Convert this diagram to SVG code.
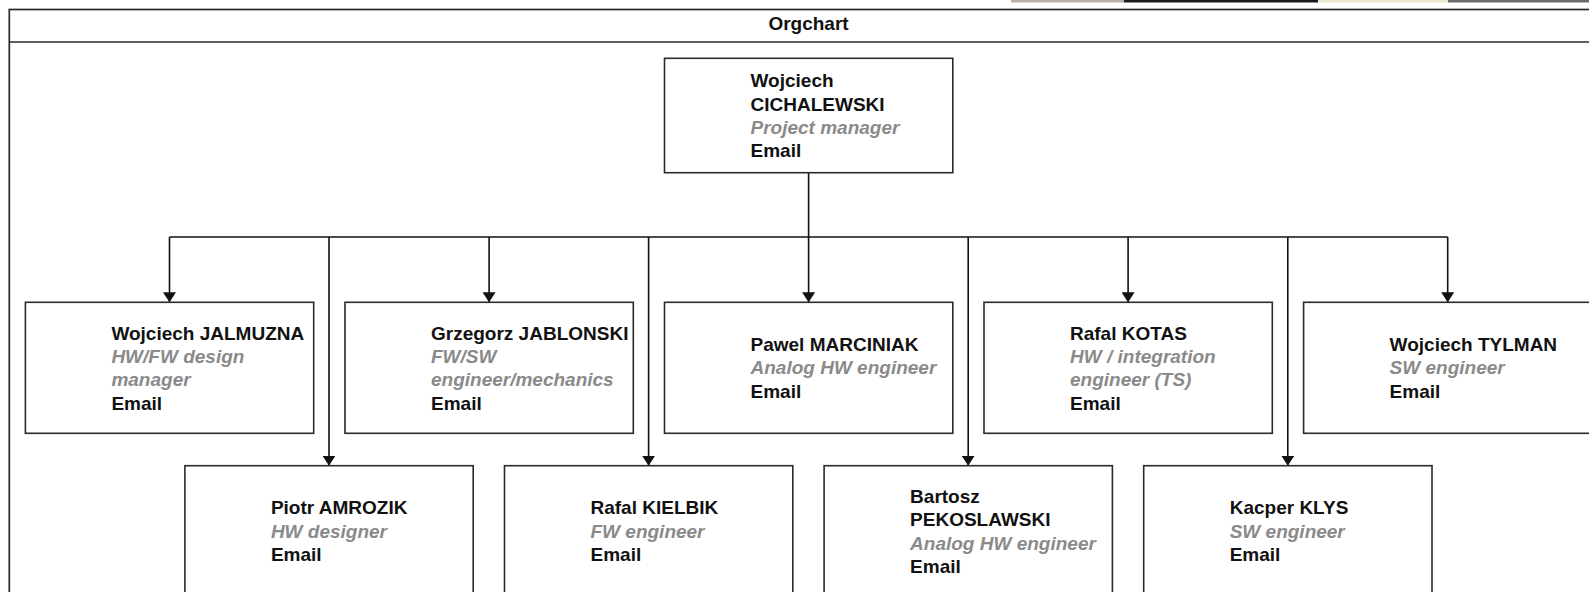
<svg xmlns="http://www.w3.org/2000/svg" width="1589" height="592" viewBox="0 0 1589 592">
  <style>
    .frame { fill: #ffffff; stroke: #2a2a2a; stroke-width: 1.7; }
    .box { fill: #ffffff; stroke: #2a2a2a; stroke-width: 1.6; }
    .edge { fill: none; stroke: #111111; stroke-width: 1.6; }
    text { font-family: "Liberation Sans", Arial, sans-serif; font-size: 19px; font-weight: bold; fill: #111111; }
    .title { text-anchor: middle; }
    .role { fill: #8a8a8a; font-style: italic; }
  </style>
  <defs>
    <marker id="arrow" viewBox="0 0 10 13" refX="10" refY="6.5" markerWidth="10" markerHeight="13" markerUnits="userSpaceOnUse" orient="auto">
      <path d="M0,0 L10,6.5 L0,13 Z" fill="#111111"/>
    </marker>
  </defs>

  <rect x="0" y="0" width="1589" height="592" fill="#ffffff"/>

  <!-- thin strip along the top right edge -->
  <g id="top-strip">
    <rect x="1011" y="0" width="113" height="2.5" fill="#b8b0a4"/>
    <rect x="1124" y="0" width="194" height="2.5" fill="#1a1a1a"/>
    <rect x="1318" y="0" width="130" height="2.5" fill="#ece6cf"/>
    <rect x="1448" y="0" width="141" height="2.5" fill="#6a6a70"/>
  </g>

  <!-- container with title band -->
  <g id="container">
    <rect class="frame" x="9.3" y="9.5" width="1598" height="700"/>
    <line class="frame" x1="9.3" y1="42" x2="1607.3" y2="42"/>
    <text class="title" x="808.5" y="30.4">Orgchart</text>
  </g>

  <!-- connectors -->
  <g id="connectors">
    <path class="edge" d="M808.6,172.7 V237"/>
    <path class="edge" d="M169.5,237 H1447.7"/>
    <path class="edge" d="M169.5,237 V302.3" marker-end="url(#arrow)"/>
    <path class="edge" d="M489.1,237 V302.3" marker-end="url(#arrow)"/>
    <path class="edge" d="M808.6,237 V302.3" marker-end="url(#arrow)"/>
    <path class="edge" d="M1128.1,237 V302.3" marker-end="url(#arrow)"/>
    <path class="edge" d="M1447.7,237 V302.3" marker-end="url(#arrow)"/>
    <path class="edge" d="M329,237 V465.7" marker-end="url(#arrow)"/>
    <path class="edge" d="M648.6,237 V465.7" marker-end="url(#arrow)"/>
    <path class="edge" d="M968.2,237 V465.7" marker-end="url(#arrow)"/>
    <path class="edge" d="M1287.8,237 V465.7" marker-end="url(#arrow)"/>
  </g>

  <!-- top level -->
  <g id="cichalewski">
    <rect class="box" x="664.5" y="58.3" width="288.3" height="114.4"/>
    <text x="750.5" y="87.3">Wojciech</text>
    <text x="750.5" y="110.6">CICHALEWSKI</text>
    <text class="role" x="750.5" y="133.9">Project manager</text>
    <text x="750.5" y="157.2">Email</text>
  </g>

  <!-- first row -->
  <g id="jalmuzna">
    <rect class="box" x="25.4" y="302.3" width="288.3" height="131"/>
    <text x="111.4" y="339.6">Wojciech JALMUZNA</text>
    <text class="role" x="111.4" y="362.9">HW/FW design</text>
    <text class="role" x="111.4" y="386.2">manager</text>
    <text x="111.4" y="409.5">Email</text>
  </g>
  <g id="jablonski">
    <rect class="box" x="345" y="302.3" width="288.3" height="131"/>
    <text x="431" y="339.6">Grzegorz JABLONSKI</text>
    <text class="role" x="431" y="362.9">FW/SW</text>
    <text class="role" x="431" y="386.2">engineer/mechanics</text>
    <text x="431" y="409.5">Email</text>
  </g>
  <g id="marciniak">
    <rect class="box" x="664.5" y="302.3" width="288.3" height="131"/>
    <text x="750.5" y="351">Pawel MARCINIAK</text>
    <text class="role" x="750.5" y="374.3">Analog HW engineer</text>
    <text x="750.5" y="397.6">Email</text>
  </g>
  <g id="kotas">
    <rect class="box" x="984" y="302.3" width="288.3" height="131"/>
    <text x="1070" y="339.6">Rafal KOTAS</text>
    <text class="role" x="1070" y="362.9">HW / integration</text>
    <text class="role" x="1070" y="386.2">engineer (TS)</text>
    <text x="1070" y="409.5">Email</text>
  </g>
  <g id="tylman">
    <rect class="box" x="1303.6" y="302.3" width="288.3" height="131"/>
    <text x="1389.6" y="351">Wojciech TYLMAN</text>
    <text class="role" x="1389.6" y="374.3">SW engineer</text>
    <text x="1389.6" y="397.6">Email</text>
  </g>

  <!-- second row -->
  <g id="amrozik">
    <rect class="box" x="184.9" y="465.7" width="288.3" height="131"/>
    <text x="270.9" y="514.3">Piotr AMROZIK</text>
    <text class="role" x="270.9" y="537.6">HW designer</text>
    <text x="270.9" y="560.9">Email</text>
  </g>
  <g id="kielbik">
    <rect class="box" x="504.5" y="465.7" width="288.3" height="131"/>
    <text x="590.5" y="514.3">Rafal KIELBIK</text>
    <text class="role" x="590.5" y="537.6">FW engineer</text>
    <text x="590.5" y="560.9">Email</text>
  </g>
  <g id="pekoslawski">
    <rect class="box" x="824.1" y="465.7" width="288.3" height="131"/>
    <text x="910.1" y="503">Bartosz</text>
    <text x="910.1" y="526.3">PEKOSLAWSKI</text>
    <text class="role" x="910.1" y="549.6">Analog HW engineer</text>
    <text x="910.1" y="572.9">Email</text>
  </g>
  <g id="klys">
    <rect class="box" x="1143.7" y="465.7" width="288.3" height="131"/>
    <text x="1229.7" y="514.3">Kacper KLYS</text>
    <text class="role" x="1229.7" y="537.6">SW engineer</text>
    <text x="1229.7" y="560.9">Email</text>
  </g>
</svg>
